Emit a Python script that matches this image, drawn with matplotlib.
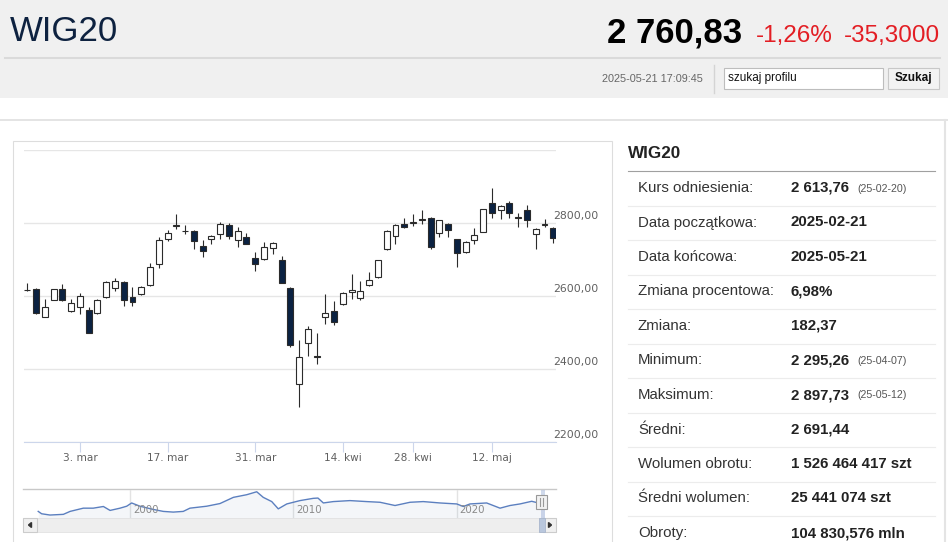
import matplotlib
matplotlib.use("Agg")
import matplotlib.pyplot as plt
import matplotlib.transforms as mtransforms
from matplotlib.patches import Rectangle, Polygon
import pandas as pd

W, H = 948, 542

# WIG20 daily candles, 2025-02-21 .. 2025-05-21 (GPW sessions)
holidays = ["2025-04-18", "2025-04-21", "2025-05-01"]
dates = [d for d in pd.bdate_range("2025-02-21", "2025-05-21")
         if d.strftime("%Y-%m-%d") not in holidays]

opens = [2618, 2620, 2544, 2590, 2620, 2560, 2571, 2562, 2553, 2599,
         2622, 2639, 2598, 2606, 2631, 2688, 2758, 2792, 2780, 2780,
         2737, 2756, 2771, 2796, 2755, 2762, 2706, 2702, 2731, 2699,
         2622, 2359, 2472, 2436, 2543, 2560, 2579, 2612, 2595, 2630,
         2652, 2730, 2766, 2799, 2802, 2810, 2815, 2774, 2799, 2756,
         2720, 2754, 2777, 2855, 2836, 2857, 2817, 2837, 2770, 2795,
         2788]
highs = [2637, 2622, 2592, 2621, 2633, 2592, 2610, 2570, 2592, 2641,
         2649, 2641, 2624, 2628, 2690, 2763, 2783, 2825, 2795, 2782,
         2753, 2768, 2804, 2802, 2789, 2774, 2722, 2748, 2748, 2710,
         2624, 2480, 2518, 2500, 2605, 2588, 2612, 2661, 2642, 2667,
         2700, 2782, 2798, 2814, 2825, 2836, 2818, 2810, 2801, 2758,
         2751, 2786, 2840, 2897.73, 2849, 2861, 2827, 2850, 2786, 2811,
         2790]
lows = [2615, 2550, 2542, 2589, 2587, 2557, 2550, 2498, 2551, 2595,
        2614, 2573, 2573, 2603, 2629, 2678, 2752, 2784, 2770, 2729,
        2708, 2742, 2758, 2756, 2736, 2742, 2669, 2700, 2716, 2635,
        2461, 2295.26, 2436, 2414, 2523, 2520, 2577, 2592, 2590, 2628,
        2650, 2728, 2743, 2787, 2793, 2799, 2729, 2763, 2763, 2679,
        2718, 2742, 2775, 2814, 2811, 2814, 2791, 2791, 2729, 2791,
        2747]
closes = [2616, 2555, 2571, 2620, 2590, 2580, 2600, 2500, 2590, 2639,
          2642, 2590, 2585, 2624, 2681, 2753, 2774, 2796, 2778, 2751,
          2723, 2766, 2798, 2766, 2778, 2744, 2689, 2734, 2746, 2637,
          2465, 2432, 2509, 2433, 2553, 2529, 2610, 2616, 2613, 2644,
          2699, 2780, 2796, 2790, 2804, 2812, 2736, 2808, 2782, 2718,
          2749, 2767, 2838, 2829, 2847, 2827, 2814, 2808, 2784, 2797,
          2760.83]

tick_dates = ["2025-03-03", "2025-03-17", "2025-03-31", "2025-04-14", "2025-04-28", "2025-05-12"]
month_pl = {3: "mar", 4: "kwi", 5: "maj"}
y_ticks = [2200, 2400, 2600, 2800, 3000]

# navigator: whole WIG20 history, level
nav_years = [1994.38, 1994.59, 1995.10, 1995.92, 1996.33, 1997.14, 1997.75, 1998.37,
             1998.78, 1999.39, 1999.80, 2000.10, 2000.61, 2001.43, 2002.04, 2002.65,
             2003.26, 2003.67, 2004.70, 2005.51, 2006.33, 2007.15, 2007.76, 2008.16,
             2008.68, 2009.08, 2009.60, 2010.41, 2011.22, 2011.51, 2011.84, 2012.45,
             2013.47, 2014.49, 2015.31, 2016.23, 2017.15, 2017.96, 2018.98, 2020.01,
             2020.41, 2020.82, 2021.84, 2022.66, 2023.27, 2023.88, 2024.60, 2025.00,
             2025.38]
nav_level = [1887, 1643, 1512, 1583, 1887, 2222, 2222, 2395,
             1989, 2222, 2425, 2760, 2425, 2090, 1887, 1816,
             1887, 2222, 2425, 2699, 3339, 3613, 3917, 3339,
             2902, 2151, 2658, 3004, 3237, 3267, 2760, 2902,
             3004, 2902, 2831, 2496, 2831, 2902, 2760, 2658,
             2395, 2658, 2760, 2222, 2496, 2658, 2933, 2760,
             2760]
nav_ticks = [2000, 2010, 2020]

# header / table texts
index_name = "WIG20"
last_price = "2 760,83"
change_pct = "-1,26%"
change_abs = "-35,3000"
timestamp = "2025-05-21 17:09:45"
row_labels = ["Kurs odniesienia:", "Data początkowa:", "Data końcowa:", "Zmiana procentowa:",
              "Zmiana:", "Minimum:", "Maksimum:", "Średni:", "Wolumen obrotu:",
              "Średni wolumen:", "Obroty:"]
row_values = ["2 613,76", "2025-02-21", "2025-05-21", "6,98%", "182,37", "2 295,26",
              "2 897,73", "2 691,44", "1 526 464 417 szt", "25 441 074 szt", "104 830,576 mln"]
row_notes = ["(25-02-20)", "", "", "", "", "(25-04-07)", "(25-05-12)", "", "", "", ""]

arial = ["Liberation Sans", "DejaVu Sans"]

fig = plt.figure(figsize=(W / 100, H / 100), dpi=100)


def px_axes(l, t, r, b):
    return fig.add_axes([l / W, 1 - b / H, (r - l) / W, (b - t) / H])


# ---- page background in pixel coordinates ----
bg = px_axes(0, 0, W, H)
bg.set_xlim(0, W)
bg.set_ylim(H, 0)
bg.axis("off")

bg.add_patch(Rectangle((0, 0), W, 98, color="#f0f0f0", lw=0))
bg.plot([5, 940], [57.5, 57.5], color="#dadada", lw=1.5)
bg.text(10, 41, index_name, family=arial, fontsize=25, color="#0e2240", va="baseline")
bg.text(742, 43, last_price, family=arial, fontsize=25, weight="bold", color="#000000",
        ha="right", va="baseline")
bg.text(833, 42, change_pct, family=arial, fontsize=17.5, color="#e31e24", ha="right", va="baseline")
bg.text(940, 42, change_abs, family=arial, fontsize=17.5, color="#e31e24", ha="right", va="baseline")

bg.text(703, 79, timestamp, family=arial, fontsize=7.8, color="#666666", ha="right", va="center")
bg.plot([714, 714], [65, 93], color="#d4d4d4", lw=1)
bg.add_patch(Rectangle((724, 68), 159, 21, fc="white", ec="#bdbdbd", lw=0.8))
bg.text(728, 78.5, "szukaj profilu", family=arial, fontsize=8.5, color="#111111", va="center")
bg.add_patch(Rectangle((888, 68), 51, 21, fc="#f3f3f3", ec="#c8c8c8", lw=0.8))
bg.text(913.5, 78.5, "Szukaj", family=arial, fontsize=8.5, weight="bold", color="#111111",
        ha="center", va="center")

# panels
bg.add_patch(Rectangle((0, 118.5), W, 2.5, color="#e4e4e4", lw=0))
bg.plot([945.5, 945.5], [120, H], color="#e4e4e4", lw=1.5)
bg.add_patch(Rectangle((13.5, 140.5), 598.5, 420, fc="white", ec="#dddddd", lw=0.8))

# table
bg.text(628, 153, index_name, family=arial, fontsize=12.3, weight="bold", color="#222222", va="center")
bg.plot([628, 935], [170.5, 170.5], color="#a0a0a0", lw=0.8)
for i, (lab, val, note) in enumerate(zip(row_labels, row_values, row_notes)):
    yc = 188 + i * 34.5
    bg.text(638, yc, lab, family=arial, fontsize=10.8, color="#333333", va="center")
    bg.text(791, yc, val, family=arial, fontsize=10.8, weight="bold", color="#222222", va="center")
    if note:
        bg.text(857, yc + 0.5, note, family=arial, fontsize=7.7, color="#555555", va="center")
    if i < len(row_labels) - 1:
        bg.plot([628, 935], [yc + 17.5, yc + 17.5], color="#ececec", lw=0.8)

# ---- candlestick chart ----
ax = px_axes(24, 150.45, 556, 441.9)
ax.set_facecolor("white")
x = list(range(len(dates)))
up_col, down_col, edge = "white", "#0b2242", "#2b2b2b"
ax.vlines(x, lows, highs, color=edge, lw=0.8, zorder=2)
bottoms = [min(o, c) for o, c in zip(opens, closes)]
heights = [abs(c - o) for o, c in zip(opens, closes)]
fills = [up_col if c >= o else down_col for o, c in zip(opens, closes)]
ax.bar(x, heights, bottom=bottoms, width=0.68, color=fills, edgecolor=edge, lw=0.8, zorder=3)

ax.set_xlim(-0.376, 60.31)
ax.set_ylim(2200, 3000)
ax.set_yticks(y_ticks)
ax.set_yticklabels([f"{v},00" if v < 3000 else "" for v in y_ticks])
ax.yaxis.tick_right()
ax.tick_params(axis="y", length=0, pad=-2.2, labelsize=7.8, labelcolor="#606060")
off = mtransforms.ScaledTranslation(0, 1.5 / 72, fig.dpi_scale_trans)
for lbl in ax.get_yticklabels():
    lbl.set_va("bottom")
    lbl.set_ha("left")
    lbl.set_transform(lbl.get_transform() + off)
    lbl.set_family("DejaVu Sans")
ax.grid(axis="y", color="#e6e6e6", lw=1)
ax.set_axisbelow(True)

date_str = [d.strftime("%Y-%m-%d") for d in dates]
tick_pos = [date_str.index(t) for t in tick_dates]
tick_lab = [f"{dates[p].day}. {month_pl[dates[p].month]}" for p in tick_pos]
ax.set_xticks(tick_pos)
ax.set_xticklabels(tick_lab)
ax.tick_params(axis="x", length=7.2, width=0.8, color="#ccd6eb", pad=1,
               labelsize=7.6, labelcolor="#606060")
for s in ["top", "left", "right"]:
    ax.spines[s].set_visible(False)
ax.spines["bottom"].set_color("#ccd6eb")
ax.spines["bottom"].set_linewidth(0.8)

# ---- navigator ----
bg.plot([23.5, 556.5], [489.3, 489.3], color="#c8c8c8", lw=1, zorder=5)
nav = px_axes(37, 489.8, 545, 517.7)
nav.set_xlim(2000 + (37 - 130) / 16.33, 2000 + (545 - 130) / 16.33)
nav.set_ylim(1237, 4120)
nav.patch.set_alpha(0)
for s in nav.spines.values():
    s.set_visible(False)
nav.set_xticks([])
nav.set_yticks([])
nav.fill_between(nav_years, nav_level, 1237, color="#4572a7", alpha=0.06, lw=0)
nav.plot(nav_years, nav_level, color="#5b7fbf", lw=1)
lab_off = mtransforms.offset_copy(nav.get_xaxis_transform(), fig=fig, x=3, y=0, units="dots")
for yr in nav_ticks:
    nav.axvline(yr, color="#e3e3e3", lw=1, zorder=0)
    nav.text(yr, 0.27, str(yr), transform=lab_off, fontsize=7.4, color="#8a8a8a",
             va="center", ha="left", family="DejaVu Sans")
start = dates[0].year + (dates[0].dayofyear - 1) / 365
end = dates[-1].year + (dates[-1].dayofyear - 1) / 365
nav.axvspan(start, end, color=(0.4, 0.52, 0.76), alpha=0.3, lw=0)

# scrollbar and handle
bg.add_patch(Rectangle((23.5, 517.7), 533, 14.3, fc="#eeeeee", ec="#e2e2e2", lw=0.6))
bg.add_patch(Rectangle((23.5, 517.7), 13.5, 14.3, fc="#f0f0f0", ec="#cccccc", lw=0.8))
bg.add_patch(Polygon([[28.5, 525], [31.5, 522.5], [31.5, 527.5]], color="#333333"))
bg.add_patch(Rectangle((543, 517.7), 13.5, 14.3, fc="#f0f0f0", ec="#cccccc", lw=0.8))
bg.add_patch(Polygon([[551.5, 525], [548.5, 522.5], [548.5, 527.5]], color="#333333"))
bg.add_patch(Rectangle((538.7, 517.7), 6.3, 14.3, fc="#b9c7dd", ec="#a9b6cc", lw=0.6, zorder=6))
hdl = fig.add_axes([0, 0, 1, 1])
hdl.set_xlim(0, W)
hdl.set_ylim(H, 0)
hdl.axis("off")
hdl.add_patch(Rectangle((536, 494.7), 11, 14, fc="#f2f2f2", ec="#999999", lw=0.8))
hdl.plot([540, 540], [498, 505.5], color="#999999", lw=0.8)
hdl.plot([543, 543], [498, 505.5], color="#999999", lw=0.8)

fig.savefig("out.png", dpi=100)
